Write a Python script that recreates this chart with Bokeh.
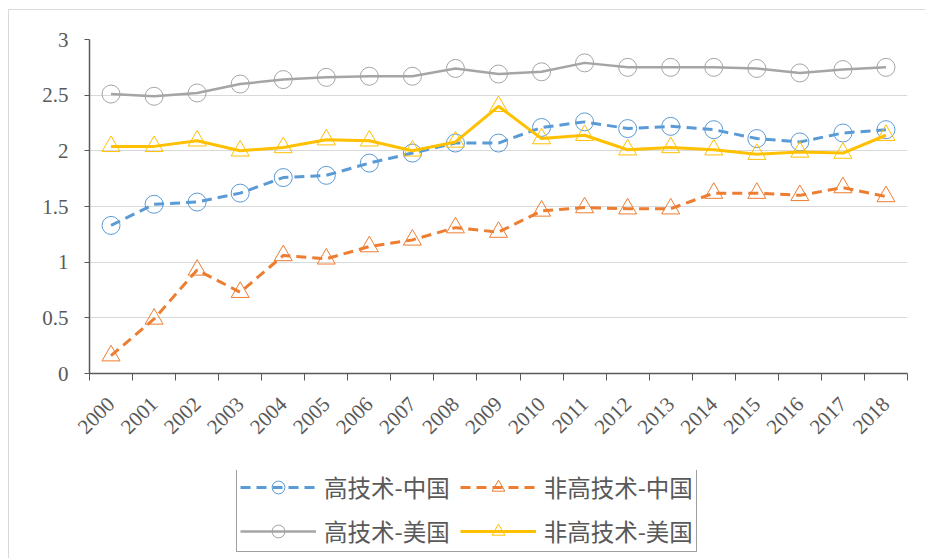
from bokeh.plotting import figure
from bokeh.layouts import column
from bokeh.models import (Range1d, FixedTicker, NumeralTickFormatter, Legend, LegendItem)
from bokeh.embed import file_html
from bokeh.resources import INLINE
import math

years = [2000, 2001, 2002, 2003, 2004, 2005, 2006, 2007, 2008, 2009,
         2010, 2011, 2012, 2013, 2014, 2015, 2016, 2017, 2018]
hi_cn = [1.33, 1.52, 1.54, 1.62, 1.76, 1.78, 1.89, 1.98, 2.07, 2.07,
         2.21, 2.26, 2.20, 2.22, 2.19, 2.11, 2.08, 2.16, 2.19]
non_cn = [0.16, 0.49, 0.93, 0.73, 1.06, 1.03, 1.14, 1.20, 1.31, 1.27,
          1.46, 1.49, 1.48, 1.48, 1.62, 1.62, 1.60, 1.67, 1.59]
hi_us = [2.51, 2.49, 2.52, 2.60, 2.64, 2.66, 2.67, 2.67, 2.74, 2.69,
         2.71, 2.79, 2.75, 2.75, 2.75, 2.74, 2.70, 2.73, 2.75]
non_us = [2.04, 2.04, 2.09, 2.00, 2.03, 2.10, 2.09, 2.00, 2.08, 2.40,
          2.11, 2.14, 2.01, 2.03, 2.01, 1.97, 1.99, 1.98, 2.14]
labels = ["高技术-中国", "非高技术-中国", "高技术-美国", "非高技术-美国"]
y_ticks = [0, 0.5, 1, 1.5, 2, 2.5, 3]

series = [
    (hi_cn, "#5B9BD5", "10 6", "circle", 3),
    (non_cn, "#ED7D31", "10 6", "triangle", 3),
    (hi_us, "#A5A5A5", "solid", "circle", 2.5),
    (non_us, "#FFC000", "solid", "triangle", 3),
]

# ---------------- main chart ----------------
p = figure(width=916, height=460, output_backend="svg", toolbar_location=None,
           x_range=Range1d(years[0] - 0.5, years[-1] + 0.5), y_range=Range1d(0, 3),
           min_border_left=80, min_border_right=18, min_border_top=29, min_border_bottom=97)
p.outline_line_color = None
p.background_fill_color = "white"
p.border_fill_color = "white"

p.xgrid.visible = False
p.ygrid.grid_line_color = "#D9D9D9"
p.ygrid.grid_line_width = 1

axis_color = "#595959"
label_color = "#595959"
p.yaxis.ticker = FixedTicker(ticks=y_ticks)
p.yaxis.formatter = NumeralTickFormatter(format="0.[0]")
p.yaxis.axis_line_color = axis_color
p.yaxis.axis_line_width = 1.5
p.yaxis.major_tick_line_color = axis_color
p.yaxis.major_tick_out = 5
p.yaxis.major_tick_in = 0
p.yaxis.minor_tick_line_color = None
p.yaxis.major_label_text_font = "Liberation Serif"
p.yaxis.major_label_text_font_size = "21px"
p.yaxis.major_label_text_color = label_color
p.yaxis.major_label_standoff = 16

minor = [y - 0.5 for y in years] + [years[-1] + 0.5]
p.xaxis.ticker = FixedTicker(ticks=years, minor_ticks=minor)
p.xaxis.formatter = NumeralTickFormatter(format="0")
p.xaxis.axis_line_color = axis_color
p.xaxis.axis_line_width = 1.5
p.xaxis.major_tick_line_color = None
p.xaxis.major_tick_out = 0
p.xaxis.major_tick_in = 0
p.xaxis.minor_tick_line_color = axis_color
p.xaxis.minor_tick_out = 7
p.xaxis.minor_tick_in = 0
p.xaxis.major_label_orientation = math.pi / 4
p.xaxis.major_label_text_font = "Liberation Serif"
p.xaxis.major_label_text_font_size = "21px"
p.xaxis.major_label_text_color = label_color
p.xaxis.major_label_standoff = 20

for vals, col, dash, marker, lw in series:
    p.line(years, vals, line_color=col, line_width=lw, line_dash=dash)
    p.scatter(years, vals, marker=marker, size=18, fill_color=None,
              line_color=col, line_width=1)

# ---------------- legend strip ----------------
q = figure(width=916, height=88, output_backend="svg", toolbar_location=None,
           x_range=Range1d(0, 1), y_range=Range1d(0, 1),
           x_axis_type=None, y_axis_type=None,
           min_border_left=0, min_border_right=0, min_border_top=0, min_border_bottom=0)
q.outline_line_color = None
q.xgrid.visible = False
q.ygrid.visible = False
q.background_fill_color = "white"
q.border_fill_color = "white"

items = []
for (vals, col, dash, marker, lw), lab in zip(series, labels):
    # same series, drawn outside q's visible range: only their legend swatches show
    ln = q.line(years, vals, line_color=col, line_width=lw, line_dash=dash)
    mk = q.scatter(years, vals, marker=marker, size=18, fill_color=None,
                   line_color=col, line_width=1)
    items.append(LegendItem(label=lab, renderers=[ln, mk]))

legend = Legend(items=items, orientation="horizontal", ncols=2, location=(147, 6))
legend.label_text_font = "Noto Sans CJK SC"
legend.label_text_font_size = "23.5px"
legend.label_text_color = label_color
legend.glyph_width = 76
legend.glyph_height = 32
legend.label_height = 32
legend.label_standoff = 8
legend.spacing = 10
legend.padding = 3
legend.margin = 0
legend.border_line_color = "#404040"
legend.border_line_width = 1
legend.background_fill_color = "white"
q.add_layout(legend, "center")

layout = column(p, q, spacing=0)
layout.styles = {"margin-left": "8px", "margin-top": "9px",
                 "border-left": "1px solid #D9D9D9", "border-top": "1px solid #D9D9D9"}

open("out.html", "w").write(file_html(layout, INLINE))
